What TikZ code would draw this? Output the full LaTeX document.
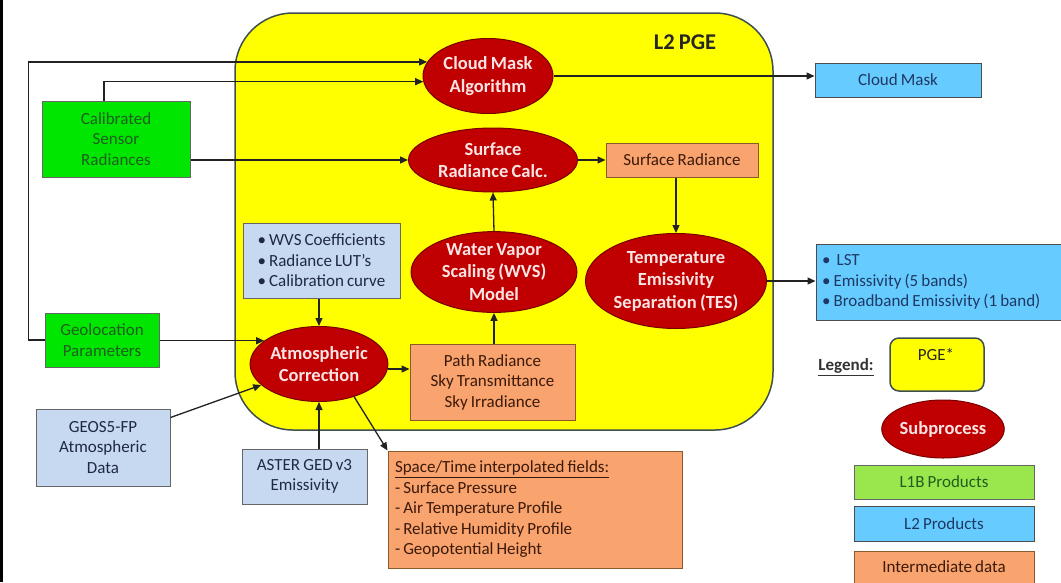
\documentclass[tikz,border=0pt]{standalone}
\usepackage{fontspec}
\setmainfont{Carlito}[WordSpace=0.8]
\usetikzlibrary{shapes.geometric,arrows.meta,calc}
\definecolor{pgeyellow}{HTML}{FFFF00}
\definecolor{pgeborder}{HTML}{3F4F4F}
\definecolor{ellred}{HTML}{C00000}
\definecolor{ellborder}{HTML}{7A0000}
\definecolor{ellText}{HTML}{FBE4E4}
\definecolor{lgreen}{HTML}{00E600}
\definecolor{lgreentext}{HTML}{1E5E1E}
\definecolor{lblue}{HTML}{66CCFF}
\definecolor{lbluetext}{HTML}{1F3864}
\definecolor{gblue}{HTML}{C6D9F1}
\definecolor{gbluetext}{HTML}{1F2A40}
\definecolor{orng}{HTML}{F9A36E}
\definecolor{orngborder}{HTML}{8B5A2B}
\definecolor{orngtext}{HTML}{3B1A0A}
\definecolor{lonegreen}{HTML}{99E64D}
\definecolor{linec}{HTML}{222222}
\tikzset{
  txt/.style={font=\fontsize{17}{20.5}\selectfont},
  ell/.style={ellipse, fill=ellred, draw=ellborder, line width=1pt, text=ellText,
    font=\bfseries\fontsize{18.5}{22.5}\selectfont, align=center, inner sep=0pt},
  greenbox/.style={rectangle, fill=lgreen, draw=black!60, line width=1pt, text=lgreentext,
    txt, align=center, inner sep=0pt},
  bluebox/.style={rectangle, fill=lblue, draw=black!70, line width=1pt, text=lbluetext,
    txt, inner sep=0pt},
  greybox/.style={rectangle, fill=gblue, draw=black!60, line width=1pt, text=gbluetext,
    txt, inner sep=0pt},
  orbox/.style={rectangle, fill=orng, draw=orngborder, line width=1pt, text=orngtext,
    txt, inner sep=0pt},
  conn/.style={draw=linec, line width=1.3pt, -{Triangle[length=8pt,width=7pt]}},
}
\begin{document}
\begin{tikzpicture}[x=1pt,y=-1pt]
\useasboundingbox (0,0) rectangle (1061,582);
\fill[white] (0,0) rectangle (1061,582);
\draw[line width=2.5pt, black] (1.5,0) -- (1.5,582);

% PGE container
\node[draw=pgeborder, fill=pgeyellow, line width=1.5pt, rounded corners=58pt,
  minimum width=538pt, minimum height=417pt, inner sep=0pt] (pge) at (504,221.5) {};
\node[font=\bfseries\fontsize{22.5}{26}\selectfont, text=black!85] (pgelabel) at (685,42) {L2 PGE};

% ellipses
\node[ell, minimum width=130pt, minimum height=75pt] (cm) at (488,76) {Cloud Mask\\Algorithm};
\node[ell, minimum width=169pt, minimum height=64pt] (src) at (493,160) {Surface\\Radiance Calc.};
\node[ell, minimum width=166pt, minimum height=77pt] (wvs) at (494,272) {Water Vapor\\Scaling (WVS)\\Model};
\node[ell, minimum width=181pt, minimum height=95pt] (tes) at (676,281) {Temperature\\Emissivity\\Separation (TES)};
\node[ell, minimum width=128pt, minimum height=75pt] (atm) at (319,364) {Atmospheric\\Correction};

% boxes
\node[greenbox, minimum width=148pt, minimum height=76pt] (cal) at (116,139) {Calibrated\\Sensor\\Radiances};
\node[greenbox, minimum width=114pt, minimum height=54pt] (geo) at (102,340) {Geolocation\\Parameters};
\node[bluebox, minimum width=166pt, minimum height=34pt] (cmbox) at (898,80) {Cloud Mask};
\node[orbox, minimum width=152pt, minimum height=34pt] (srbox) at (682,160) {Surface Radiance};
\node[orbox, minimum width=165pt, minimum height=76pt, align=center] (path) at (492.5,382) {Path Radiance\\Sky Transmittance\\Sky Irradiance};
\node[greybox, minimum width=157pt, minimum height=75pt, align=left] (coef) at (321.5,260.5) {• WVS Coefficients\\• Radiance LUT’s\\• Calibration curve};
\node[greybox, minimum width=134pt, minimum height=77pt, align=center] (geos) at (103,447.5) {GEOS5-FP\\Atmospheric\\Data};
\node[greybox, minimum width=125pt, minimum height=55pt, align=center] (aster) at (304.5,476.5) {ASTER GED v3\\Emissivity};
\node[orbox, minimum width=294pt, minimum height=117pt, align=flush left, text width=280pt] (sp) at (535,509.5)
  {\underline{Space/Time interpolated fields:}\\- Surface Pressure\\- Air Temperature Profile\\- Relative Humidity Profile\\- Geopotential Height};
\node[bluebox, minimum width=248pt, minimum height=76pt, align=flush left, text width=236pt] (out) at (940,282)
  {•\ \ LST\\• Emissivity (5 bands)\\• Broadband Emissivity (1 band)};

% legend
\node[font=\bfseries\fontsize{17}{20}\selectfont, text=black!80] (leg) at (846,367) {\underline{Legend:}};
\node[draw=pgeborder, fill=pgeyellow, line width=1.5pt, rounded corners=9pt,
  minimum width=94pt, minimum height=53pt, inner sep=0pt] (legpge) at (937,364.5) {};
\node[txt, text=black!85] (legpgetxt) at (936,355) {PGE*};
\node[ell, minimum width=115pt, minimum height=58pt] (legsub) at (943,429) {Subprocess};
\node[greenbox, fill=lonegreen, minimum width=180pt, minimum height=34pt] (legl1b) at (944,482) {L1B Products};
\node[bluebox, minimum width=180pt, minimum height=35pt] (legl2) at (944,523.5) {L2 Products};
\node[orbox, minimum width=180pt, minimum height=36pt] (legint) at (944,569) {};
\node[txt, text=orngtext] (leginttxt) at (944,567) {Intermediate data};

% connectors
\draw[conn] (geo.west) -- ++(-16,0) |- (cm.167);
\draw[conn] ($(cal.north west)!0.42!(cal.north east)$) |- (cm.185);
\draw[conn] (cal.east |- src.west) -- (src.west);
\draw[conn] (cm.east) -- (cmbox.west |- cm.east);
\draw[conn] (src.east) -- (srbox.west);
\draw[conn] (srbox.south -| tes.north) -- (tes.north);
\draw[conn] (wvs.north) -- (src.south);
\draw[conn] (path.north -| wvs.south) -- (wvs.south);
\draw[conn] (tes.east) -- (out.west |- tes.east);
\draw[conn] (coef.south -| atm.north) -- (atm.north);
\draw[conn] (geo.east |- atm.157) -- (atm.157);
\draw[conn] ([yshift=-9pt]geos.north east) -- (atm.200);
\draw[conn] (aster.north -| atm.south) -- (atm.south);
\draw[conn] ([yshift=-5pt]atm.east) -- ([yshift=-5pt]atm.east -| path.west);
\draw[conn] (atm.317) -- (sp.north west);
\end{tikzpicture}
\end{document}
